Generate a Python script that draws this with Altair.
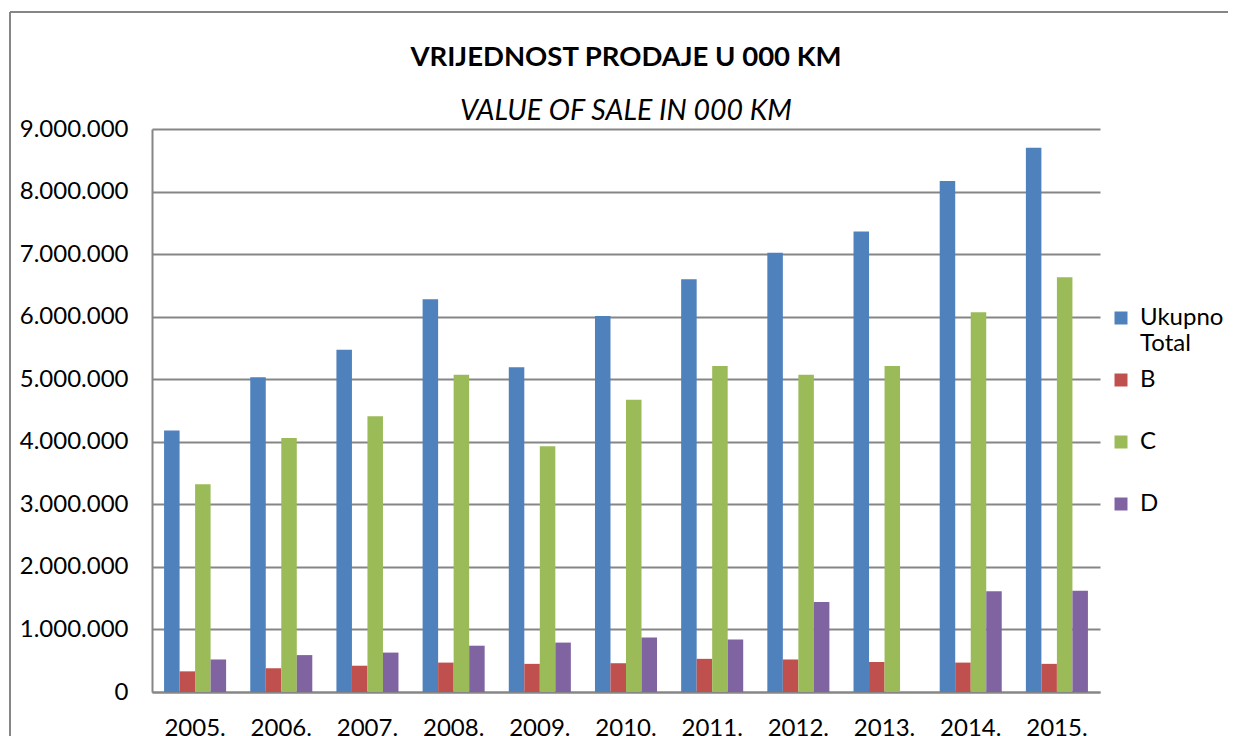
import altair as alt
import pandas as pd

years = ["2005.", "2006.", "2007.", "2008.", "2009.", "2010.", "2011.", "2012.", "2013.", "2014.", "2015."]
series_names = ["Ukupno Total", "B", "C", "D"]
colors = ["#4F81BD", "#C0504D", "#9BBB59", "#8064A2"]

total = [4180000, 5030000, 5470000, 6280000, 5190000, 6010000, 6600000, 7020000, 7360000, 8170000, 8700000]
b_vals = [330000, 380000, 420000, 470000, 450000, 460000, 530000, 520000, 480000, 470000, 450000]
c_vals = [3320000, 4060000, 4410000, 5070000, 3930000, 4670000, 5210000, 5070000, 5210000, 6070000, 6630000]
d_vals = [520000, 590000, 630000, 740000, 790000, 870000, 840000, 1440000, None, 1610000, 1620000]

rows = []
for i, yr in enumerate(years):
    for name, vals in zip(series_names, [total, b_vals, c_vals, d_vals]):
        if vals[i] is not None:
            rows.append({"year": yr, "series": name, "value": vals[i]})
df = pd.DataFrame(rows)

FONT = "Lato"
GRID = "#868686"
W, H = 948, 563

bars = alt.Chart(df).mark_bar().encode(
    x=alt.X("year:N", sort=years,
            scale=alt.Scale(domain=years, paddingInner=0.28, paddingOuter=0.14),
            axis=alt.Axis(title=None, labelAngle=0, ticks=False, domainColor=GRID, domainWidth=2,
                          labelFontSize=24, labelPadding=24, labelColor="black", labelFont=FONT, grid=False)),
    xOffset=alt.XOffset("series:N", sort=series_names,
                        scale=alt.Scale(domain=series_names, paddingInner=0, paddingOuter=0)),
    y=alt.Y("value:Q",
            scale=alt.Scale(domain=[0, 9000000], nice=False),
            axis=alt.Axis(title=None, values=list(range(0, 9000001, 1000000)),
                          labelExpr="join(split(format(datum.value, ','), ','), '.')",
                          ticks=False, domainColor=GRID, domainWidth=2, gridColor=GRID, gridWidth=2,
                          labelFontSize=24, labelPadding=24, labelColor="black", labelFont=FONT)),
    color=alt.Color("series:N", sort=series_names,
                    scale=alt.Scale(domain=series_names, range=colors),
                    legend=alt.Legend(title=None, orient="none", legendX=957, legendY=177,
                                      symbolType="square", symbolSize=169, symbolStrokeWidth=0,
                                      labelFontSize=24, labelFont=FONT, labelColor="black", labelLimit=0,
                                      labelExpr="datum.label == 'Ukupno Total' ? ['Ukupno', 'Total'] : datum.label",
                                      gridAlign="all", rowPadding=12, labelOffset=7)),
)

frame_df = pd.DataFrame({"k": [0]})
frame_left = alt.Chart(frame_df).mark_rule(color=GRID, strokeWidth=2).encode(
    x=alt.value(-142), y=alt.value(-117), y2=alt.value(630))
frame_top = alt.Chart(frame_df).mark_rule(color=GRID, strokeWidth=2).encode(
    x=alt.value(-142), x2=alt.value(1100), y=alt.value(-117))

chart = alt.layer(frame_left, frame_top, bars).properties(
    width=W, height=H,
    autosize="none",
    padding={"left": 144, "top": 121, "right": 128, "bottom": 44},
    title=alt.TitleParams(text="VRIJEDNOST PRODAJE U 000 KM", subtitle="VALUE OF SALE IN 000 KM",
                          font=FONT, fontSize=27.5, fontWeight="bold", color="black",
                          subtitleFont=FONT, subtitleFontSize=28.5, subtitleFontStyle="italic",
                          subtitleColor="black", subtitlePadding=25, anchor="middle", offset=-114),
).configure_view(stroke=None)

chart.save("out.html", embed_options={"renderer": "svg", "actions": False})
